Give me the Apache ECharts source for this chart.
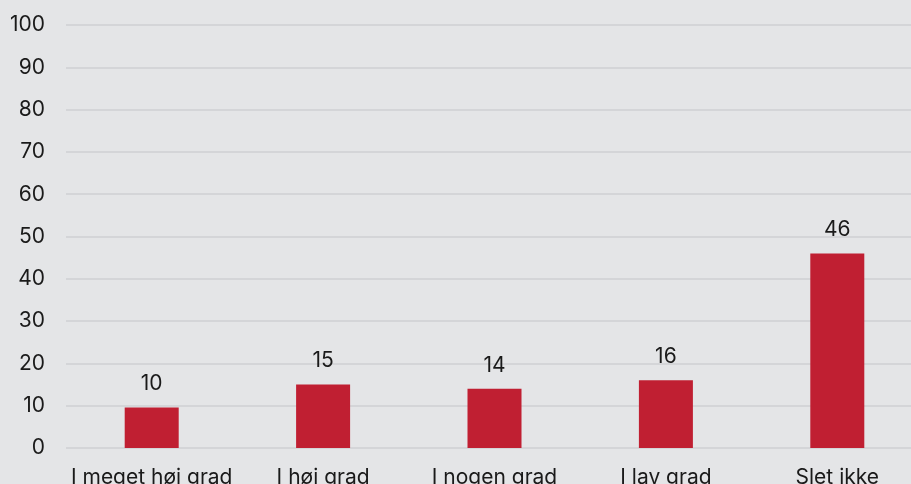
<!DOCTYPE html>
<html><head><meta charset="utf-8">
<script src="https://cdn.jsdelivr.net/npm/echarts@6/dist/echarts.min.js"></script>
<style>html,body{margin:0;padding:0;background:#e4e5e7;overflow:hidden;width:911px;height:484px;}#c{width:923px;height:484px;}</style>
</head><body><div id="c"></div>
<script>
const categories = ["I meget høj grad", "I høj grad", "I nogen grad", "I lav grad", "Slet ikke"];
const values = [9.6, 15, 14, 16, 46];
const yTicks = [0, 10, 20, 30, 40, 50, 60, 70, 80, 90, 100];

const chart = echarts.init(document.getElementById('c'));
chart.setOption({
  backgroundColor: '#e4e5e7',
  animation: false,
  textStyle: { fontFamily: 'Inter' },
  grid: { left: 66, right: 0, top: 25, bottom: 36, containLabel: false, outerBoundsMode: 'none' },
  xAxis: {
    type: 'category', data: categories,
    axisLine: { show: false }, axisTick: { show: false },
    axisLabel: { color: '#1a1a1a', fontSize: 21, margin: 19, interval: 0, fontFamily: 'Inter' }
  },
  yAxis: {
    type: 'value', min: yTicks[0], max: yTicks[yTicks.length - 1], interval: 10,
    axisLine: { show: false }, axisTick: { show: false },
    axisLabel: { color: '#1a1a1a', fontSize: 21, margin: 21, fontFamily: 'Inter' },
    splitLine: { lineStyle: { color: '#d4d5d8', width: 2 } }
  },
  series: [{
    type: 'bar', data: values, barWidth: 54,
    itemStyle: { color: '#c01f32' },
    label: { show: true, position: 'top', distance: 13, color: '#1a1a1a', fontSize: 21, fontFamily: 'Inter',
      formatter: p => Math.round(p.value) }
  }]
});
</script></body></html>
